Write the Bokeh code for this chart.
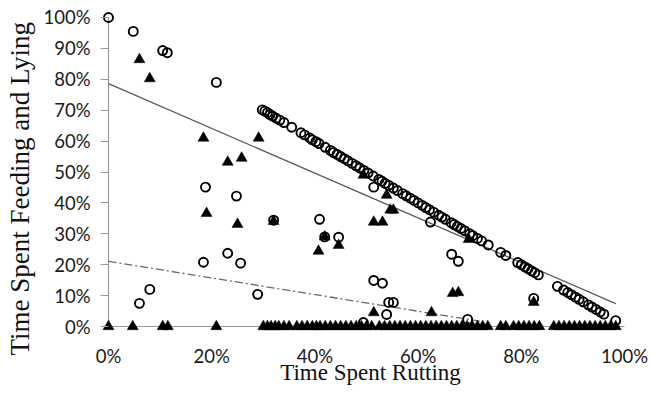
from bokeh.plotting import figure
from bokeh.models import Range1d, FixedTicker, Title
from bokeh.embed import file_html
from bokeh.resources import INLINE

# ---------------- data (percent) ----------------
# open circles
circle_x = [0, 4.8, 10.5, 11.4, 20.9, 18.8, 24.8, 18.4, 23.1, 25.6, 28.9, 6.0, 8.0,
            32.0, 40.9, 41.9, 44.6, 51.4, 62.4, 66.5, 67.8, 51.4, 53.1, 54.3, 55.2,
            53.9, 69.6, 49.4, 82.4, 98.3,
            29.8, 30.3, 30.8, 31.3, 31.8, 32.5, 33.2, 34.0, 35.5, 37.3, 38.0, 39.0,
            39.5, 40.2, 40.8, 42.0, 43.0, 43.6, 44.3, 45.0, 45.7, 46.4, 47.2, 48.0,
            48.7, 49.5, 50.3, 51.3, 52.4, 53.0, 53.6, 54.3, 55.2, 56.0, 57.0, 57.7,
            58.5, 59.2, 60.0, 60.8, 61.5, 62.2, 63.0, 64.0, 64.6, 65.3, 66.4, 67.0,
            67.6, 68.3, 69.0, 70.0, 70.6, 71.5, 72.3, 73.6, 76.0, 77.0, 79.3, 80.0,
            80.7, 81.3, 82.0, 82.6, 83.3, 87.0, 88.2, 89.0, 89.7, 90.5, 91.2, 92.0,
            93.0, 93.7, 94.5, 95.3, 96.0]
circle_y = [100, 95.5, 89.3, 88.6, 79.0, 45.1, 42.2, 20.8, 23.7, 20.5, 10.4, 7.5, 12.0,
            34.4, 34.7, 29.0, 28.9, 45.1, 33.8, 23.4, 21.1, 14.9, 14.0, 7.8, 7.8,
            3.9, 2.3, 1.3, 9.1, 1.9,
            70.1, 69.7, 69.2, 68.6, 68.1, 67.4, 66.8, 66.0, 64.5, 62.7, 62.0, 61.0,
            60.4, 59.8, 59.2, 58.0, 57.0, 56.3, 55.7, 55.0, 54.3, 53.6, 52.8, 52.0,
            51.3, 50.5, 49.7, 48.7, 47.6, 47.0, 46.3, 45.7, 44.8, 44.0, 43.0, 42.3,
            41.5, 40.8, 40.0, 39.2, 38.5, 37.8, 37.0, 36.0, 35.4, 34.7, 33.6, 33.0,
            32.4, 31.7, 31.0, 30.0, 29.4, 28.5, 27.7, 26.4, 24.0, 23.0, 20.7, 20.0,
            19.3, 18.7, 18.0, 17.4, 16.7, 13.0, 11.8, 11.0, 10.3, 9.5, 8.8, 8.0,
            7.0, 6.3, 5.5, 4.7, 4.0]

# filled triangles
tri_x = [6.0, 8.0, 18.4, 29.1, 23.1, 25.8, 19.0, 25.0, 32.0, 41.9, 44.6, 40.7,
         51.4, 53.1, 54.6, 55.2, 53.9, 49.4, 69.8, 51.4, 62.6, 66.7, 67.8, 82.4,
         0, 4.7, 10.5, 11.5, 20.9, 30.0, 30.8, 31.5, 32.3, 33.0, 34.0, 35.0, 36.5,
         37.5, 38.5, 39.5, 40.3, 41.0, 42.0, 43.0, 44.0, 45.0, 46.0, 47.0, 48.0,
         49.0, 50.0, 51.0, 52.5, 53.5, 54.5, 55.5, 56.5, 57.5, 58.5, 59.5, 60.5,
         61.5, 62.5, 63.5, 64.5, 65.5, 66.5, 67.5, 68.5, 69.5, 70.5, 71.5, 72.5,
         73.5, 76.0, 77.0, 78.5, 79.5, 80.5, 81.5, 82.5, 83.5, 86.3, 87.3, 88.3,
         89.3, 90.3, 91.3, 92.3, 93.3, 94.3, 95.3, 96.3, 97.3, 98.3]
tri_y = [86.4, 80.2, 61.0, 61.0, 53.2, 54.5, 36.6, 33.1, 34.0, 29.0, 26.3, 24.4,
         33.8, 33.8, 37.7, 37.7, 42.5, 49.0, 28.2, 4.5, 4.5, 10.7, 11.0, 7.8,
         0, 0, 0, 0, 0, 0, 0, 0, 0, 0, 0, 0, 0,
         0, 0, 0, 0, 0, 0, 0, 0, 0, 0, 0, 0,
         0, 0, 0, 0, 0, 0, 0, 0, 0, 0, 0, 0,
         0, 0, 0, 0, 0, 0, 0, 0, 0, 0, 0, 0,
         0, 0, 0, 0, 0, 0, 0, 0, 0, 0, 0, 0,
         0, 0, 0, 0, 0, 0, 0, 0, 0, 0]

# trend lines (end points)
trend_solid_x = [0, 98.3]
trend_solid_y = [78.6, 7.4]
trend_dash_x = [0, 72.0]
trend_dash_y = [21.1, 1.7]

x_ticks = [0, 20, 40, 60, 80, 100]
x_tick_labels = ["0%", "20%", "40%", "60%", "80%", "100%"]
y_ticks = [0, 10, 20, 30, 40, 50, 60, 70, 80, 90, 100]
y_tick_labels = ["0%", "10%", "20%", "30%", "40%", "50%", "60%", "70%", "80%", "90%", "100%"]

x_title = "Time Spent Rutting"
y_title = "Time Spent Feeding and Lying"

# ---------------- figure ----------------
p = figure(width=652, height=393, output_backend="svg", toolbar_location=None,
           x_range=Range1d(-1.55, 103.1), y_range=Range1d(-1.94, 105.5),
           min_border_left=100, min_border_right=12, min_border_top=0,
           min_border_bottom=61)
p.outline_line_color = None
p.grid.visible = False
p.background_fill_color = "white"
p.border_fill_color = "white"

axis_grey = "#9a9a9a"
tick_font = "Lato"
title_font = "Liberation Serif"

xa = p.xaxis[0]
xa.ticker = FixedTicker(ticks=x_ticks)
xa.major_label_overrides = {t: l for t, l in zip(x_ticks, x_tick_labels)}
xa.axis_line_color = None
xa.major_tick_line_color = None
xa.major_tick_out = 0
xa.major_tick_in = 0
xa.minor_tick_line_color = None
xa.major_label_standoff = 12
xa.major_label_text_font = tick_font
xa.major_label_text_font_size = "18.5px"
xa.major_label_text_color = "#1a1a1a"
xa.axis_label = x_title
xa.axis_label_standoff = -10
xa.axis_label_text_font = title_font
xa.axis_label_text_font_style = "normal"
xa.axis_label_text_font_size = "23px"
xa.axis_label_text_color = "#111111"

ya = p.yaxis[0]
ya.ticker = FixedTicker(ticks=y_ticks)
ya.major_label_overrides = {t: l for t, l in zip(y_ticks, y_tick_labels)}
ya.axis_line_color = None
ya.major_tick_line_color = axis_grey
ya.major_tick_line_width = 1.2
ya.major_tick_out = 0
ya.major_tick_in = 8
ya.minor_tick_line_color = None
ya.major_label_standoff = 10
ya.major_label_text_font = tick_font
ya.major_label_text_font_size = "18.5px"
ya.major_label_text_color = "#1a1a1a"

p.add_layout(Title(text=y_title, align="left", offset=-23, standoff=8,
                   vertical_align="top",
                   text_font=title_font, text_font_style="normal",
                   text_font_size="27px", text_color="#111111"), "left")

# axis lines at the origin (span of the tick lists)
p.line([x_ticks[0], x_ticks[-1]], [y_ticks[0], y_ticks[0]], line_color=axis_grey, line_width=1.2)
p.line([x_ticks[0], x_ticks[0]], [y_ticks[0], y_ticks[-1]], line_color=axis_grey, line_width=1.2)

# trend lines
p.line(trend_solid_x, trend_solid_y, line_color="#5a5a5a", line_width=1.3)
p.line(trend_dash_x, trend_dash_y, line_color="#6a6a6a", line_width=1.3,
       line_dash="8 3 2 3")

# markers
p.scatter(tri_x, tri_y, marker="triangle", size=11, fill_color="black",
          line_color="black", line_width=0.5)
p.scatter(circle_x, circle_y, marker="circle", size=9, fill_color=None,
          line_color="black", line_width=1.9)

open("out.html", "w").write(file_html(p, INLINE))
